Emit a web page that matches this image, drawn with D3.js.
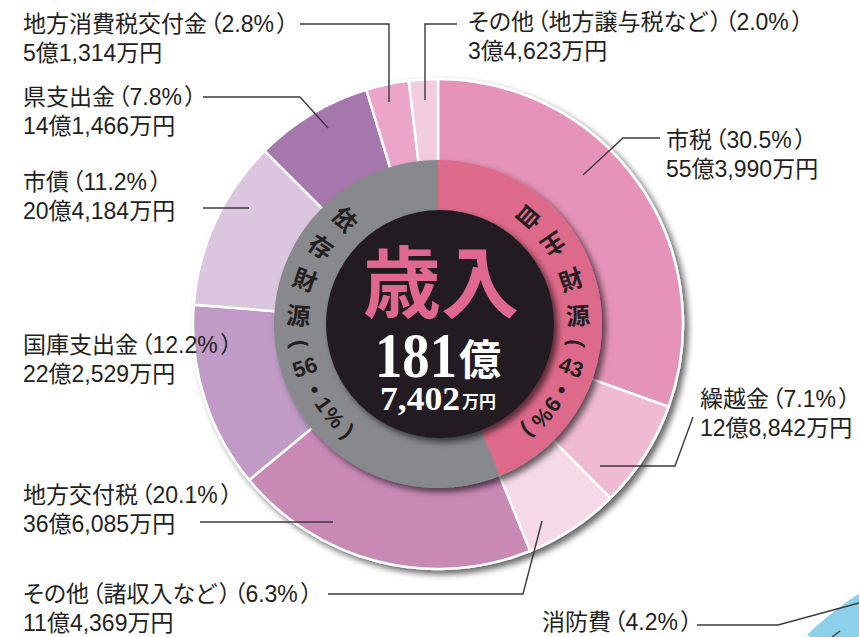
<!DOCTYPE html>
<html>
<head>
<meta charset="utf-8">
<script src="https://cdn.jsdelivr.net/npm/d3@7"></script>
<style>
html, body { margin: 0; padding: 0; background: #fff; }
svg { display: block; }
.lbl { font-family: 'Liberation Sans', 'Noto Sans CJK JP', sans-serif; font-size: 23px; fill: #231f20; font-feature-settings: "palt"; }
.lead { fill: none; stroke: #3a3a3a; stroke-width: 1.4; }
</style>
</head>
<body>
<svg id="chart" width="859" height="637"></svg>
<script>
// 歳入の内訳（単位：万円）、上から時計回り
var categories = ["市税", "繰越金", "その他（諸収入など）", "地方交付税", "国庫支出金", "市債", "県支出金", "地方消費税交付金", "その他（地方譲与税など）"];
var amounts = [553990, 128842, 114369, 366085, 222529, 204184, 141466, 51314, 34623];
var percents = ["30.5", "7.1", "6.3", "20.1", "12.2", "11.2", "7.8", "2.8", "2.0"];
var groupOf = [0, 0, 0, 1, 1, 1, 1, 1, 1];
var groupNames = ["自主財源", "依存財源"];
var groupPercents = ["43.9", "56.1"];

// 右下にはみ出している歳出グラフの一部
var nextCategories = ["", "消防費"];
var nextPercents = [4.5, 4.2];

var colors = ["#e593b8", "#efbad2", "#f5d9e6", "#c889b5", "#bf9bc5", "#dcc5df", "#a677ac", "#eaa5c8", "#f2cde0"];
var groupColors = ["#de6a8b", "#88898d"];
var nextColors = ["#c4cde6", "#8dd0ea"];

var svg = d3.select("#chart");
var cx = 438, cy = 324;

var defs = svg.append("defs");
defs.append("filter").attr("id", "shadow")
  .attr("x", "-20%").attr("y", "-20%").attr("width", "140%").attr("height", "140%")
  .append("feDropShadow")
  .attr("dx", 4).attr("dy", 4).attr("stdDeviation", 3)
  .attr("flood-color", "#000").attr("flood-opacity", 0.6);

var rad = function(deg) { return deg * Math.PI / 180; };

// ---- next chart (歳出) peeking in at the bottom right
var nextStart = 300.1;
var pie2 = d3.pie().sort(null)
  .startAngle(rad(nextStart))
  .endAngle(rad(nextStart + d3.sum(nextPercents) * 3.6))
  .value(function(d) { return d; });
var arc2 = d3.arc().innerRadius(200).outerRadius(362);
svg.append("g")
  .attr("transform", "translate(1056,896)")
  .attr("filter", "url(#shadow)")
  .selectAll("path")
  .data(pie2(nextPercents))
  .enter().append("path")
  .attr("d", arc2)
  .attr("fill", function(d, i) { return nextColors[i]; })
  .attr("stroke", "#fff").attr("stroke-width", 2);

// ---- outer ring
var pie = d3.pie().sort(null).value(function(d) { return d; });
var outerArc = d3.arc().innerRadius(150).outerRadius(245);
svg.append("g")
  .attr("transform", "translate(" + cx + "," + cy + ")")
  .attr("filter", "url(#shadow)")
  .selectAll("path")
  .data(pie(amounts))
  .enter().append("path")
  .attr("d", outerArc)
  .attr("fill", function(d, i) { return colors[i]; })
  .attr("stroke", "#fff").attr("stroke-width", 2.5)
  .attr("stroke-linejoin", "round");

// ---- inner ring (自主 / 依存)
var groupSums = groupNames.map(function(n, gi) {
  return d3.sum(amounts.filter(function(a, i) { return groupOf[i] === gi; }));
});
var innerArc = d3.arc().innerRadius(105).outerRadius(164);
svg.append("g")
  .attr("transform", "translate(" + cx + "," + cy + ")")
  .attr("filter", "url(#shadow)")
  .selectAll("path")
  .data(pie(groupSums))
  .enter().append("path")
  .attr("d", innerArc)
  .attr("fill", function(d, i) { return groupColors[i]; });

// black centre
svg.append("circle")
  .attr("cx", cx + 2).attr("cy", cy).attr("r", 114)
  .attr("fill", "#231f20")
  .attr("filter", "url(#shadow)");

// ring texts, one glyph at a time along the arc
function ringGlyphs(name, pct) {
  var p = pct.split(".");
  var g = name.split("").map(function(c) { return { t: c, k: "cjk" }; });
  g.push({ t: "(", k: "paren" });
  g.push({ t: p[0], k: "tcy" });
  g.push({ t: "・", k: "dot" });
  g.push({ t: p[1], k: "side" });
  g.push({ t: "%", k: "side" });
  g.push({ t: ")", k: "paren" });
  return g;
}
var step = { cjk: 15, paren: 9, tcy: 11, dot: 8, side: 7 };
var ringR = 140;

function drawRing(gi, startDeg, dir) {
  var glyphs = ringGlyphs(groupNames[gi], groupPercents[gi]);
  var theta = startDeg, prev = null;
  glyphs.forEach(function(g, i) {
    if (prev) theta += dir * (step[prev.k] + step[g.k]) / 2;
    prev = g;
    var x = cx + ringR * Math.sin(rad(theta));
    var y = cy - ringR * Math.cos(rad(theta));
    var r = dir < 0 ? theta + 90 : theta - 90;
    if (g.k === "side" || g.k === "paren") r += 90;
    if (dir > 0 && i < 2) r += 180; // 自主 is set upside down in the original
    var cjk = (g.k === "cjk" || g.k === "dot");
    svg.append("text")
      .attr("transform", "translate(" + x + "," + y + ") rotate(" + r + ")")
      .attr("text-anchor", "middle")
      .attr("dominant-baseline", "central")
      .attr("font-family", cjk ? "'Noto Sans CJK JP', sans-serif" : "'Liberation Sans', sans-serif")
      .attr("font-weight", 700)
      .attr("font-size", cjk ? 24 : 22)
      .attr("fill", "#231f20")
      .text(g.t);
  });
}
drawRing(0, 41, 1);
drawRing(1, -41, -1);

// centre totals
var total = d3.sum(amounts);
var fmt = d3.format(",");
svg.append("text")
  .attr("x", cx + 3).attr("y", 312)
  .attr("text-anchor", "middle")
  .attr("font-family", "'Noto Sans CJK JP', sans-serif")
  .attr("font-weight", 700).attr("font-size", 78)
  .attr("fill", "#e0678f")
  .text("歳入");
svg.append("text")
  .attr("x", 375).attr("y", 377)
  .attr("font-family", "'Liberation Serif', serif")
  .attr("font-weight", 700).attr("font-size", 64)
  .attr("textLength", 82).attr("lengthAdjust", "spacingAndGlyphs")
  .attr("fill", "#fff")
  .text(Math.floor(total / 10000));
svg.append("text")
  .attr("x", 459).attr("y", 375)
  .attr("font-family", "'Noto Sans CJK JP', sans-serif")
  .attr("font-weight", 700).attr("font-size", 42)
  .attr("fill", "#fff")
  .text("億");
svg.append("text")
  .attr("x", 380).attr("y", 410)
  .attr("font-family", "'Liberation Serif', serif")
  .attr("font-weight", 700).attr("font-size", 33)
  .attr("textLength", 80).attr("lengthAdjust", "spacingAndGlyphs")
  .attr("fill", "#fff")
  .text(fmt(total % 10000));
svg.append("text")
  .attr("x", 462).attr("y", 408)
  .attr("font-family", "'Noto Sans CJK JP', sans-serif")
  .attr("font-weight", 700).attr("font-size", 17)
  .attr("fill", "#fff")
  .text("万円");

// ---- labels and leader lines
function oku(v) {
  return Math.floor(v / 10000) + "億" + fmt(v % 10000) + "万円";
}
// write a label line, giving the brackets a little more room than 'palt' leaves
function fillLine(sel, str) {
  var parts = str.split(/([（）])/);
  parts.forEach(function(p) {
    if (!p) return;
    var ts = sel.append("tspan").text(p);
    if (p === "（" || p === "）") ts.attr("dx", 3);
  });
}
var labelLayout = [
  { x: 666, y: 148, line: [[660, 138], [623, 138], [583, 175]] },
  { x: 700, y: 407, line: [[693, 417], [675, 466], [600, 466]] },
  { x: 23, y: 602, line: [[328, 594], [523, 594], [542, 521]] },
  { x: 23, y: 503, line: [[200, 522], [333, 522]] },
  { x: 23, y: 353, line: null },
  { x: 23, y: 190, line: [[203, 208], [249, 208]] },
  { x: 23, y: 105, line: [[203, 97], [300, 97], [328, 128]] },
  { x: 23, y: 32, line: [[300, 24], [389, 24], [389, 102]] },
  { x: 468, y: 30, line: [[457, 24], [425, 24], [425, 100]] }
];
var line = d3.line();

labelLayout.forEach(function(l, i) {
  if (l.line) svg.append("path").attr("class", "lead").attr("d", line(l.line));
  var t1 = svg.append("text").attr("class", "lbl").attr("x", l.x).attr("y", l.y);
  fillLine(t1, categories[i] + "（" + percents[i] + "%）");
  svg.append("text").attr("class", "lbl").attr("x", l.x).attr("y", l.y + 29)
    .text(oku(amounts[i]));
});

// label of the next chart
svg.append("path").attr("class", "lead").attr("d", line([[697, 625], [778, 625], [859, 603]]));
svg.append("path").attr("class", "lead").attr("d", line([[832, 637], [840, 631]]));
var t2 = svg.append("text").attr("class", "lbl").attr("x", 542).attr("y", 630);
fillLine(t2, nextCategories[1] + "（" + nextPercents[1] + "%）");
</script>
</body>
</html>
